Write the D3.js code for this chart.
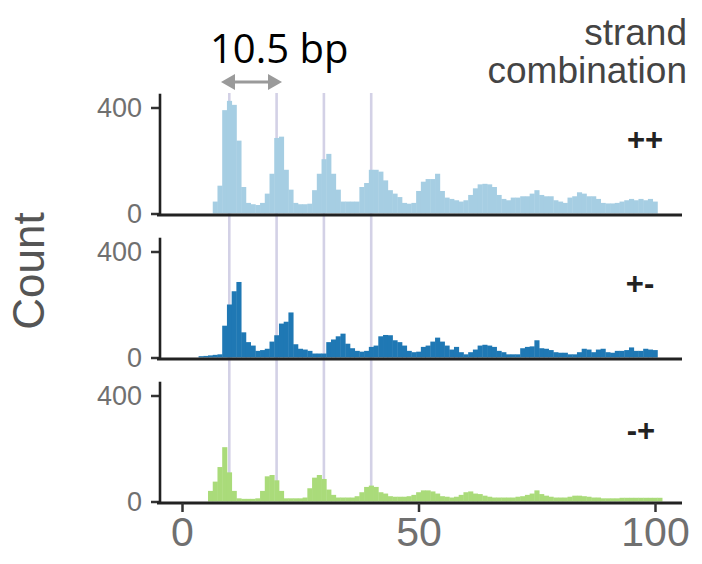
<!DOCTYPE html>
<html><head><meta charset="utf-8">
<script src="https://cdn.jsdelivr.net/npm/d3@7"></script>
<style>html,body{margin:0;padding:0;background:#fff;}svg{display:block;}</style>
</head><body>
<script>
// ---- data ----
const strandCombos = ["++", "+-", "-+"];
const plusPlusStart = 7;
const plusPlusCounts = [45,105,390,425,410,275,100,40,35,32,40,75,150,285,290,165,90,40,35,35,37,88,150,205,225,150,90,45,45,45,45,100,115,165,165,158,125,88,75,62,40,37,40,85,120,130,130,150,85,60,55,50,45,50,70,95,110,112,110,100,70,55,50,60,60,65,65,75,88,70,65,65,50,45,40,60,65,80,75,65,65,55,40,38,38,40,45,50,55,50,55,50,55,45];
const plusMinusStart = 4;
const plusMinusCounts = [5,6,8,10,12,120,200,250,285,95,58,45,25,28,33,60,84,128,135,170,50,33,30,25,15,15,15,58,68,80,90,52,35,25,22,25,40,45,80,85,84,65,58,45,25,20,22,40,45,60,75,60,45,30,40,20,12,20,30,45,48,45,40,25,20,12,12,12,35,40,42,65,35,33,28,20,18,18,12,12,20,33,30,20,30,33,20,18,25,25,28,38,25,25,33,30,28];
const minusPlusStart = 6;
const minusPlusCounts = [40,75,130,205,110,40,12,10,10,10,12,40,95,100,80,40,12,12,12,12,15,50,90,100,85,45,25,15,15,15,15,20,35,55,60,55,35,30,20,18,18,18,20,25,35,42,42,38,30,20,18,15,18,25,35,38,30,28,22,18,15,15,15,15,15,18,20,25,30,42,28,22,18,15,15,15,18,22,22,20,18,15,15,12,12,12,12,14,14,14,14,14,14,14,14,14];
const guideLines = [10, 20, 30, 40];
const xTicks = [0, 50, 100];
const yTicks = [0, 400];
const yTop = 452;
const periodLabel = "10.5 bp";
const legendTitle = ["strand", "combination"];
const yTitle = "Count";

// ---- layout ----
const W = 702, H = 564;
const colors = ["#a6cee3", "#1f78b4", "#aadb7a"];
const baselines = [215, 359, 503];
const panelPx = 106;
const x = d3.scaleLinear().domain([0, 100]).range([182, 655]);
const axisX = 160, lineLeft = 157, lineRight = 682;
const sans = "Liberation Sans, Arial, sans-serif";

const svg = d3.select("body").append("svg").attr("width", W).attr("height", H);

const series = [
  {start: plusPlusStart, counts: plusPlusCounts},
  {start: plusMinusStart, counts: plusMinusCounts},
  {start: minusPlusStart, counts: minusPlusCounts}
];

// guide lines (behind bars)
svg.append("g").selectAll("line").data(guideLines).join("line")
  .attr("x1", d => x(d)).attr("x2", d => x(d))
  .attr("y1", 93).attr("y2", baselines[2] - 2)
  .attr("stroke", "#d3d1e6").attr("stroke-width", 2.6);

const labelPos = [[645, 139], [640, 283], [641, 430]];

series.forEach((s, i) => {
  const B = baselines[i];
  const y0 = B - 1.5;
  const y = d3.scaleLinear().domain([0, 400]).range([y0, y0 - panelPx]);
  const g = svg.append("g");
  const data = s.counts.map((c, k) => ({u: s.start + k, c}));
  g.selectAll("rect").data(data).join("rect")
    .attr("x", d => x(d.u - 0.5))
    .attr("width", d => x(d.u + 0.5) - x(d.u - 0.5) + 0.4)
    .attr("y", d => y(d.c))
    .attr("height", d => y0 - y(d.c))
    .attr("fill", colors[i]);

  // y axis ticks and labels
  const ya = d3.axisLeft(y).tickValues(yTicks).tickSize(9).tickPadding(9).tickFormat(d3.format("d"));
  const ag = svg.append("g").attr("transform", `translate(${axisX},0)`).call(ya);
  ag.select(".domain").remove();
  ag.selectAll(".tick line").attr("stroke", "#333").attr("stroke-width", 2.5);
  ag.selectAll(".tick text").attr("fill", "#707070")
    .style("font-family", sans).style("font-size", "27px");

  // axis lines
  svg.append("path").attr("d", `M${axisX},${y(yTop)}V${B}`)
    .attr("stroke", "#222").attr("stroke-width", 2.6).attr("fill", "none");
  svg.append("line").attr("x1", lineLeft).attr("x2", lineRight).attr("y1", B).attr("y2", B)
    .attr("stroke", "#222").attr("stroke-width", 2.8);

  // strand combination label
  svg.append("text").attr("x", labelPos[i][0]).attr("y", labelPos[i][1]).attr("dy", "0.35em")
    .attr("text-anchor", "middle").attr("fill", "#222")
    .style("font-family", sans).style("font-size", "31px").style("font-weight", "bold")
    .text(strandCombos[i]);
});

// bottom x axis
const xa = d3.axisBottom(x).tickValues(xTicks).tickSize(9).tickPadding(5);
const xg = svg.append("g").attr("transform", `translate(0,${baselines[2]})`).call(xa);
xg.select(".domain").remove();
xg.selectAll(".tick line").attr("stroke", "#333").attr("stroke-width", 2.5);
xg.selectAll(".tick text").attr("fill", "#707070")
  .style("font-family", sans).style("font-size", "41px");

// y title
svg.append("text").attr("transform", "translate(44,271) rotate(-90)")
  .attr("text-anchor", "middle").attr("fill", "#555")
  .style("font-family", sans).style("font-size", "44px")
  .text(yTitle);

// legend title
svg.append("text").attr("x", 687).attr("y", 45).attr("text-anchor", "end").attr("fill", "#444")
  .style("font-family", sans).style("font-size", "37px").text(legendTitle[0]);
svg.append("text").attr("x", 687).attr("y", 83).attr("text-anchor", "end").attr("fill", "#444")
  .style("font-family", sans).style("font-size", "37px").text(legendTitle[1]);

// period annotation
svg.append("text").attr("x", 210).attr("y", 63).attr("fill", "#000")
  .style("font-family", "Open Sans, sans-serif").style("font-size", "40px").text(periodLabel);
const ay = 82, ax1 = 221, ax2 = 282;
svg.append("line").attr("x1", ax1 + 10).attr("x2", ax2 - 10).attr("y1", ay).attr("y2", ay)
  .attr("stroke", "#9a9a9a").attr("stroke-width", 3);
svg.append("path").attr("d", `M${ax1},${ay}L${ax1 + 14},${ay - 8}L${ax1 + 14},${ay + 8}Z`).attr("fill", "#9a9a9a");
svg.append("path").attr("d", `M${ax2},${ay}L${ax2 - 14},${ay - 8}L${ax2 - 14},${ay + 8}Z`).attr("fill", "#9a9a9a");
</script>
</body></html>
